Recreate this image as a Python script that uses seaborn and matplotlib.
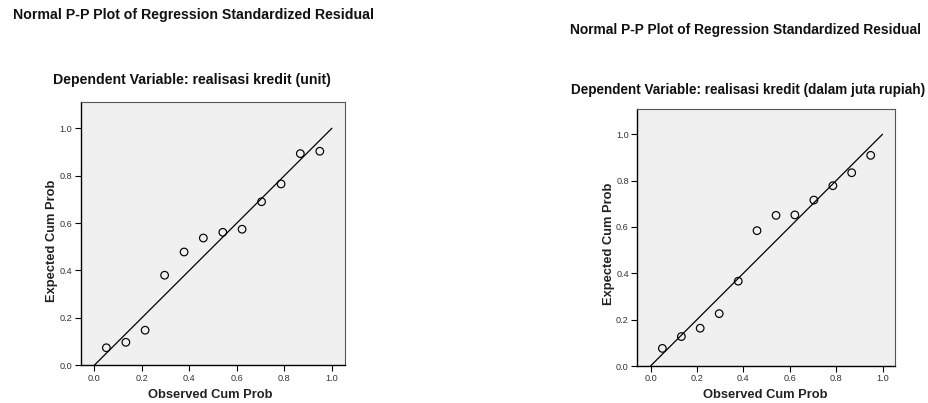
import matplotlib
matplotlib.use("Agg")
import matplotlib.pyplot as plt
import seaborn as sns
import pandas as pd

# ---- data ----
observed_cum_prob = [0.051, 0.133, 0.214, 0.296, 0.378, 0.459,
                     0.541, 0.622, 0.704, 0.786, 0.867, 0.949]
expected_unit = [0.074, 0.097, 0.148, 0.380, 0.478, 0.537,
                 0.561, 0.574, 0.690, 0.765, 0.893, 0.903]
expected_rupiah = [0.076, 0.127, 0.163, 0.226, 0.366, 0.584,
                   0.650, 0.652, 0.716, 0.778, 0.834, 0.909]
ref_line = [0.0, 1.0]
tick_vals = [0.0, 0.2, 0.4, 0.6, 0.8, 1.0]
tick_labels = ["0.0", "0.2", "0.4", "0.6", "0.8", "1.0"]
main_title = "Normal P-P Plot of Regression Standardized Residual"
sub_titles = ["Dependent Variable: realisasi kredit (unit)",
              "Dependent Variable: realisasi kredit (dalam juta rupiah)"]
x_label = "Observed Cum Prob"
y_label = "Expected Cum Prob"

sns.set_theme(style="white")
plt.rcParams["font.family"] = ["Liberation Sans", "DejaVu Sans"]

W, H = 929, 403
fig = plt.figure(figsize=(W / 100, H / 100), dpi=100)
fig.patch.set_facecolor("white")

def px_axes(x0, y0, x1, y1):
    return fig.add_axes([x0 / W, (H - y1) / H, (x1 - x0) / W, (y1 - y0) / H])

panels = [
    dict(box=(80.7, 101.7, 345.0, 365.3), ys=expected_unit, ylim=1.112,
         title_xy=(12.7, 15.5), title_ha="left", title_fs=10.15,
         sub_xy=(192, 80), sub_fs=10.15,
         ylab_xy=(51.7, 241), xlab_x=210),
    dict(box=(637.3, 109.0, 895.3, 366.0), ys=expected_rupiah, ylim=1.109,
         title_xy=(746, 30), title_ha="center", title_fs=9.95,
         sub_xy=(748, 90), sub_fs=9.75,
         ylab_xy=(609, 244), xlab_x=765.5),
]

for i, p in enumerate(panels):
    x0, y0, x1, y1 = p["box"]
    ax = px_axes(x0, y0, x1, y1)
    ax.set_facecolor("#F0F0F0")
    df = pd.DataFrame({"obs": observed_cum_prob, "exp": p["ys"]})
    line_df = pd.DataFrame({"x": ref_line, "y": ref_line})
    sns.lineplot(data=line_df, x="x", y="y", ax=ax, color="black",
                 linewidth=0.9, zorder=2)
    sns.scatterplot(data=df, x="obs", y="exp", ax=ax, marker="o", s=30,
                    facecolor="none", edgecolor="black", linewidth=0.85,
                    zorder=3)
    ax.set_xlim(-0.057, 1.055)
    ax.set_ylim(0.0, p["ylim"])
    ax.set_xticks(tick_vals)
    ax.set_xticklabels(tick_labels)
    ax.set_yticks(tick_vals)
    ax.set_yticklabels(tick_labels)
    ax.tick_params(axis="both", which="major", direction="out", length=4.6,
                   width=0.8, color="black", labelsize=6.6,
                   labelcolor="#333333", pad=1.5,
                   bottom=True, left=True)
    ax.set_xlabel("")
    ax.set_ylabel("")
    for side in ["top", "right"]:
        ax.spines[side].set_color("#555555")
        ax.spines[side].set_linewidth(0.8)
    for side in ["left", "bottom"]:
        ax.spines[side].set_color("black")
        ax.spines[side].set_linewidth(1.0)
    # axis labels
    fig.text(p["xlab_x"] / W, 1 - 395 / H, x_label, ha="center",
             va="center", fontsize=9.3, fontweight="bold", color="#222222")
    lx, ly = p["ylab_xy"]
    fig.text(lx / W, 1 - ly / H, y_label, ha="center", va="center",
             rotation=90, fontsize=9.3, fontweight="bold", color="#222222")
    tx, ty = p["title_xy"]
    fig.text(tx / W, 1 - ty / H, main_title, ha=p["title_ha"], va="center",
             fontsize=p["title_fs"], fontweight="bold", color="#111111")
    sx, sy = p["sub_xy"]
    fig.text(sx / W, 1 - sy / H, sub_titles[i], ha="center", va="center",
             fontsize=p["sub_fs"], fontweight="bold", color="#111111")

fig.savefig("out.png", dpi=100, facecolor="white")
